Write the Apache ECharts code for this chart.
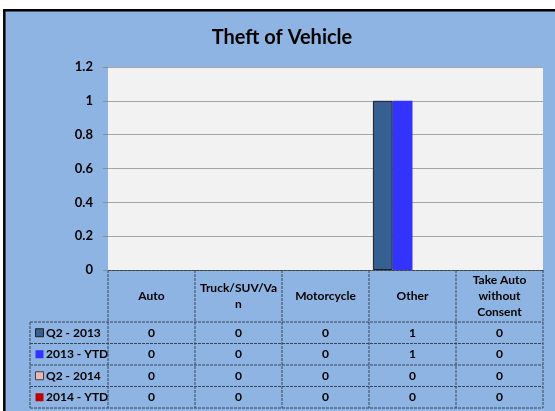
<!DOCTYPE html>
<html>
<head>
<meta charset="utf-8">
<script src="https://cdn.jsdelivr.net/npm/echarts@6/dist/echarts.min.js"></script>
<style>
  html, body { margin: 0; padding: 0; background: #fff; }
  #chart { width: 555px; height: 411px; }
</style>
</head>
<body>
<div id="chart"></div>
<script>
var categories = ['Auto', 'Truck/SUV/Va\nn', 'Motorcycle', 'Other', 'Take Auto\nwithout\nConsent'];
var seriesNames = ['Q2 - 2013', '2013 - YTD', 'Q2 - 2014', '2014 - YTD'];
var q2_2013 = [0, 0, 0, 1, 0];
var ytd_2013 = [0, 0, 0, 1, 0];
var q2_2014 = [0, 0, 0, 0, 0];
var ytd_2014 = [0, 0, 0, 0, 0];
var seriesColors = ['#376092', '#3333FF', '#E6B9B8', '#C00000'];
var keyBorders = ['#1F1F1F', null, '#404040', null];

var font = 'Lato, "Open Sans", sans-serif';
var lineColor = '#3A4656';

var chart = echarts.init(document.getElementById('chart'));

var allData = [q2_2013, ytd_2013, q2_2014, ytd_2014];

var option = {
    backgroundColor: '#fff',
    animation: false,
    textStyle: { fontFamily: font },
    title: {
        text: 'Theft of Vehicle',
        left: 277,
        top: 23,
        textAlign: 'center',
        textStyle: { fontFamily: font, fontSize: 20, fontWeight: 'bold', color: '#000' }
    },
    grid: {
        left: 108, top: 67, width: 435, height: 203,
        show: true, backgroundColor: '#F2F2F2', borderWidth: 0,
        containLabel: false
    },
    xAxis: {
        type: 'category',
        data: categories,
        axisLine: { show: true, lineStyle: { color: lineColor, width: 1, type: [3, 1] } },
        axisTick: { show: false },
        axisLabel: {
            interval: 0, margin: 26, verticalAlign: 'middle', lineHeight: 16,
            fontFamily: font, fontSize: 12, fontWeight: 'bold', color: '#000'
        }
    },
    yAxis: {
        type: 'value',
        min: 0, max: 1.2, interval: 0.2,
        axisLine: { show: false },
        axisTick: { show: true, length: 5, lineStyle: { color: '#8C8C8C' } },
        axisLabel: { margin: 15, fontFamily: font, fontSize: 13, fontWeight: 'bold', color: '#000' },
        splitLine: { show: true, lineStyle: { color: '#A6A6A6', width: 1 } }
    },
    series: seriesNames.map(function (name, i) {
        return {
            name: name,
            type: 'bar',
            barGap: '0%',
            barCategoryGap: '9%',
            itemStyle: { color: seriesColors[i] },
            // only the first series has an outline, and only where the bar has height
            data: allData[i].map(function (v) {
                return {
                    value: v,
                    itemStyle: {
                        borderColor: '#1F1F1F',
                        borderWidth: (i === 0 && v > 0) ? 1 : 0
                    }
                };
            })
        };
    })
};

chart.setOption(option);

// data table under the axis
var tableLeft = 30, tableRight = 543;
var headerTop = 270;
var rowLines = [322, 343.5, 365, 386.5, 408];
var colLines = [108, 195, 282, 369, 456, 543];
var dash = [3, 1];

var g = [];
// outer frame of the chart
g.push({
    type: 'rect', z: -10, silent: true,
    shape: { x: 4.3, y: 10.2, width: 620, height: 500 },
    style: { fill: '#8DB4E2', stroke: '#000', lineWidth: 2.5 }
});
rowLines.forEach(function (y) {
    g.push({
        type: 'line', silent: true,
        shape: { x1: tableLeft, y1: y, x2: tableRight, y2: y },
        style: { stroke: lineColor, lineWidth: 1, lineDash: dash }
    });
});
g.push({
    type: 'line', silent: true,
    shape: { x1: tableLeft, y1: rowLines[0], x2: tableLeft, y2: rowLines[rowLines.length - 1] },
    style: { stroke: lineColor, lineWidth: 1, lineDash: dash }
});
colLines.forEach(function (x) {
    g.push({
        type: 'line', silent: true,
        shape: { x1: x, y1: headerTop, x2: x, y2: rowLines[rowLines.length - 1] },
        style: { stroke: lineColor, lineWidth: 1, lineDash: dash }
    });
});

seriesNames.forEach(function (name, r) {
    var yc = (rowLines[r] + rowLines[r + 1]) / 2;
    g.push({
        type: 'rect', silent: true,
        shape: { x: 35.5, y: yc - 4, width: 8, height: 8 },
        style: {
            fill: seriesColors[r],
            stroke: keyBorders[r] || null,
            lineWidth: keyBorders[r] ? 1 : 0
        }
    });
    g.push({
        type: 'text', silent: true,
        x: 46, y: yc,
        style: {
            text: name, fill: '#000', font: 'bold 12px ' + font,
            textAlign: 'left', textVerticalAlign: 'middle'
        }
    });
    allData[r].forEach(function (v, c) {
        var px = chart.convertToPixel({ xAxisIndex: 0 }, c);
        g.push({
            type: 'text', silent: true,
            x: px, y: yc,
            style: {
                text: String(v), fill: '#000', font: 'bold 12px ' + font,
                textAlign: 'center', textVerticalAlign: 'middle'
            }
        });
    });
});

chart.setOption({ graphic: { elements: g } });
</script>
</body>
</html>
